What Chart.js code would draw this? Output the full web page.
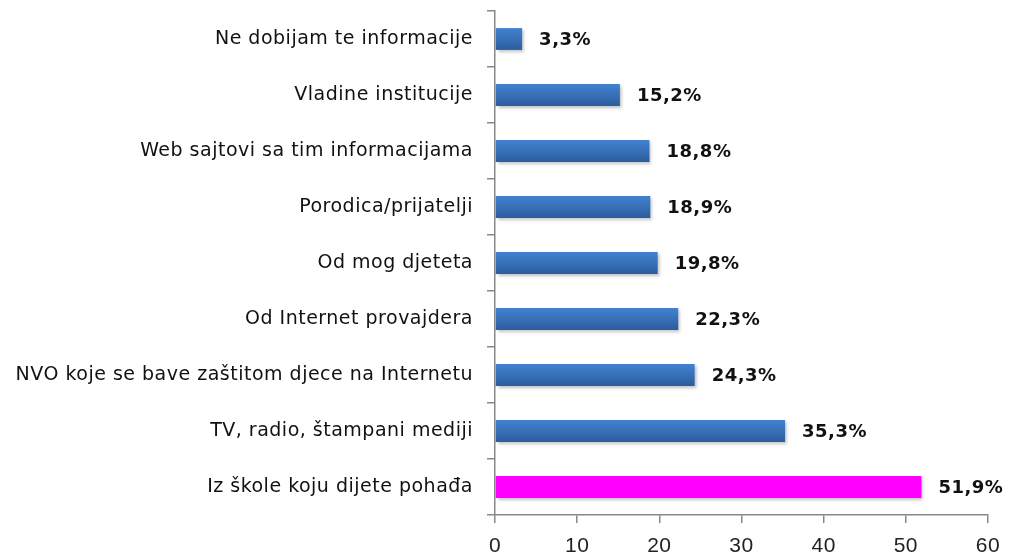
<!DOCTYPE html>
<html>
<head>
<meta charset="utf-8">
<script src="https://cdn.jsdelivr.net/npm/chart.js@4"></script>
<style>
  html, body { margin: 0; padding: 0; background: #fff; }
  #wrap { width: 1011px; height: 556px; }
</style>
</head>
<body>
<div id="wrap"><canvas id="izvoriChart" width="1011" height="556"></canvas></div>
<script>
const categories = [
    'Ne dobijam te informacije',
    'Vladine institucije',
    'Web sajtovi sa tim informacijama',
    'Porodica/prijatelji',
    'Od mog djeteta',
    'Od Internet provajdera',
    'NVO koje se bave zaštitom djece na Internetu',
    'TV, radio, štampani mediji',
    'Iz škole koju dijete pohađa'
];
const values = [3.3, 15.2, 18.8, 18.9, 19.8, 22.3, 24.3, 35.3, 51.9];
const xTicks = [0, 10, 20, 30, 40, 50, 60];
const BAR_PCT = 0.39;

const ctx = document.getElementById('izvoriChart').getContext('2d');

function barColor(context) {
    if (context.dataIndex === values.length - 1) return '#ff00ff';
    const chart = context.chart;
    const yScale = chart.scales.y;
    if (!chart.chartArea || !yScale) return '#3a70b8';
    const cy = yScale.getPixelForValue(context.dataIndex);
    const h = chart.chartArea.height / values.length * BAR_PCT;
    if (!isFinite(cy) || !isFinite(h)) return '#3a70b8';
    const g = chart.ctx.createLinearGradient(0, cy - h / 2, 0, cy + h / 2);
    g.addColorStop(0, '#4182d0');
    g.addColorStop(1, '#2c5d9c');
    return g;
}

// wider letter spacing for the axis text
const spacedText = {
    id: 'spacedText',
    beforeDraw(chart) { chart.ctx.letterSpacing = '0.5px'; },
    beforeDatasetsDraw(chart) { chart.ctx.letterSpacing = '0px'; }
};

// soft shadow under the bars
const barShadow = {
    id: 'barShadow',
    beforeDatasetsDraw(chart) {
        const c = chart.ctx;
        c.save();
        c.shadowColor = 'rgba(0,0,0,0.25)';
        c.shadowBlur = 3;
        c.shadowOffsetX = 2;
        c.shadowOffsetY = 2;
    },
    afterDatasetsDraw(chart) {
        chart.ctx.restore();
    }
};

// percentage labels to the right of each bar
const valueLabels = {
    id: 'valueLabels',
    afterDatasetsDraw(chart) {
        const c = chart.ctx;
        const meta = chart.getDatasetMeta(0);
        c.save();
        c.font = 'bold 18px "DejaVu Sans"';
        c.letterSpacing = '0.5px';
        c.fillStyle = '#111';
        c.textBaseline = 'middle';
        meta.data.forEach((bar, i) => {
            const txt = values[i].toFixed(1).replace('.', ',') + '%';
            c.fillText(txt, bar.x + 17, bar.y + 1);
        });
        c.restore();
    }
};

new Chart(ctx, {
    type: 'bar',
    data: {
        labels: categories,
        datasets: [{
            data: values,
            backgroundColor: barColor,
            borderWidth: 0,
            barPercentage: BAR_PCT,
            categoryPercentage: 1
        }]
    },
    options: {
        indexAxis: 'y',
        responsive: false,
        animation: false,
        layout: { padding: { top: 11, right: 23, left: 0, bottom: 0 } },
        plugins: {
            legend: { display: false },
            tooltip: { enabled: false }
        },
        scales: {
            x: {
                min: 0,
                max: 60,
                afterBuildTicks: (s) => { s.ticks = xTicks.map(v => ({ value: v })); },
                afterFit: (s) => {
                    s.height = 41;
                    s.paddingLeft = 0;
                    s.paddingRight = 0;
                },
                grid: {
                    drawOnChartArea: false,
                    drawTicks: true,
                    tickLength: 8,
                    color: '#888',
                    lineWidth: 1.5
                },
                border: { color: '#888', width: 1.5 },
                ticks: {
                    color: '#222',
                    font: { family: '"Liberation Sans", Arial, sans-serif', size: 21 },
                    padding: 11
                }
            },
            y: {
                afterFit: (s) => {
                    s.width = 495;
                    s.paddingTop = 0;
                    s.paddingBottom = 0;
                },
                grid: {
                    drawOnChartArea: false,
                    drawTicks: true,
                    tickLength: 8,
                    offset: true,
                    color: '#888',
                    lineWidth: 1.5
                },
                border: { color: '#888', width: 1.5 },
                ticks: {
                    color: '#111',
                    font: { family: 'DejaVu Sans', size: 19 },
                    padding: 14
                }
            }
        }
    },
    plugins: [spacedText, barShadow, valueLabels]
});
</script>
</body>
</html>
